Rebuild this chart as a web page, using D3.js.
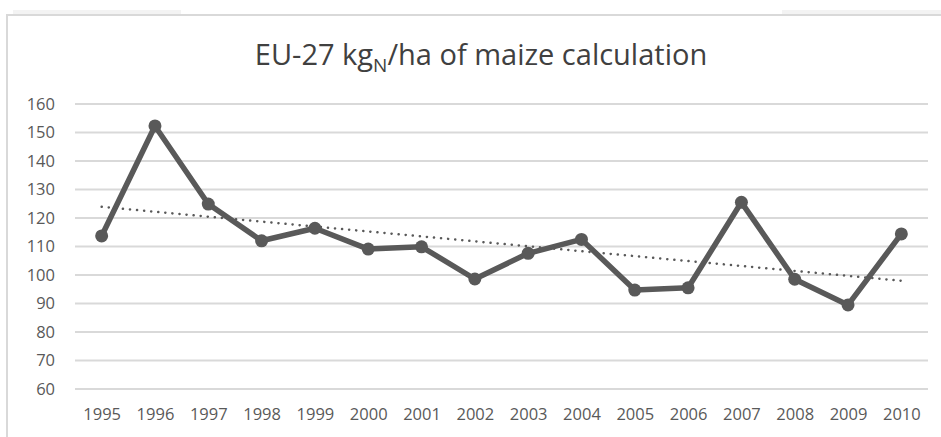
<!DOCTYPE html>
<html>
<head>
<meta charset="utf-8">
<script src="https://cdn.jsdelivr.net/npm/d3@7"></script>
<style>
    body { margin: 0; background: #fff; }
    svg { display: block; }
</style>
</head>
<body>
<div id="chart"></div>
<script>
// data
const years = ["1995","1996","1997","1998","1999","2000","2001","2002",
               "2003","2004","2005","2006","2007","2008","2009","2010"];
const kgN = [113.7, 152.3, 124.9, 112.0, 116.4, 109.1, 109.9, 98.6,
             107.6, 112.5, 94.7, 95.5, 125.5, 98.5, 89.5, 114.4];
const yTicks = [60, 70, 80, 90, 100, 110, 120, 130, 140, 150, 160];

const width = 941, height = 437;
const plot = { left: 75, right: 928, top: 104, bottom: 389 };

const svg = d3.select("#chart").append("svg")
    .attr("width", width)
    .attr("height", height);

// frame of the chart area (cropped screenshot)
svg.append("rect").attr("x", 13).attr("y", 10).attr("width", 168).attr("height", 4).attr("fill", "#f3f3f3");
svg.append("rect").attr("x", 782).attr("y", 10).attr("width", 159).attr("height", 4).attr("fill", "#f3f3f3");
svg.append("path")
    .attr("d", "M7,437 V15 H941")
    .attr("fill", "none")
    .attr("stroke", "#d9d9d9")
    .attr("stroke-width", 2);

const x = d3.scalePoint()
    .domain(years)
    .range([plot.left, plot.right])
    .padding(0.5);

const y = d3.scaleLinear()
    .domain([60, 160])
    .range([plot.bottom, plot.top]);

// gridlines
svg.append("g")
    .selectAll("line")
    .data(yTicks)
    .join("line")
    .attr("x1", plot.left)
    .attr("x2", plot.right)
    .attr("y1", d => y(d))
    .attr("y2", d => y(d))
    .attr("stroke", "#d9d9d9")
    .attr("stroke-width", 2);

// y axis labels
const yAxis = svg.append("g")
    .attr("transform", `translate(${plot.left},0)`)
    .call(d3.axisLeft(y).tickValues(yTicks).tickSize(0).tickPadding(20));
yAxis.select(".domain").remove();
yAxis.selectAll("text")
    .attr("fill", "#595959")
    .style("font-family", "'Open Sans', sans-serif")
    .style("font-size", "16.5px");

// x axis labels
const xAxis = svg.append("g")
    .attr("transform", `translate(0,${plot.bottom})`)
    .call(d3.axisBottom(x).tickSize(0).tickPadding(19));
xAxis.select(".domain").remove();
xAxis.selectAll("text")
    .attr("fill", "#595959")
    .style("font-family", "'Open Sans', sans-serif")
    .style("font-size", "16.5px");

// linear trendline (least squares over the series)
const n = kgN.length;
const xs = d3.range(n);
const mx = d3.mean(xs), my = d3.mean(kgN);
const slope = d3.sum(xs, i => (i - mx) * (kgN[i] - my)) / d3.sum(xs, i => (i - mx) ** 2);
const icpt = my - slope * mx;
const trend = [0, n - 1].map(i => ({ year: years[i], v: icpt + slope * i }));

svg.append("path")
    .datum(trend)
    .attr("d", d3.line().x(d => x(d.year)).y(d => y(d.v)))
    .attr("fill", "none")
    .attr("stroke", "#595959")
    .attr("stroke-width", 2.5)
    .attr("stroke-linecap", "round")
    .attr("stroke-dasharray", "0.1,7");

// series line
svg.append("path")
    .datum(kgN)
    .attr("d", d3.line().x((d, i) => x(years[i])).y(d => y(d)))
    .attr("fill", "none")
    .attr("stroke", "#595959")
    .attr("stroke-width", 5.5)
    .attr("stroke-linejoin", "round");

svg.append("g")
    .selectAll("circle")
    .data(kgN)
    .join("circle")
    .attr("cx", (d, i) => x(years[i]))
    .attr("cy", d => y(d))
    .attr("r", 6.5)
    .attr("fill", "#595959");

// title with subscript N
const title = svg.append("text")
    .attr("x", 481)
    .attr("y", 65)
    .attr("text-anchor", "middle")
    .attr("fill", "#404040")
    .style("font-family", "'Open Sans', sans-serif")
    .style("font-size", "29px");
title.append("tspan").text("EU-27 kg");
title.append("tspan").text("N").attr("dy", 7).style("font-size", "19px");
title.append("tspan").text("/ha of maize calculation").attr("dy", -7);
</script>
</body>
</html>
